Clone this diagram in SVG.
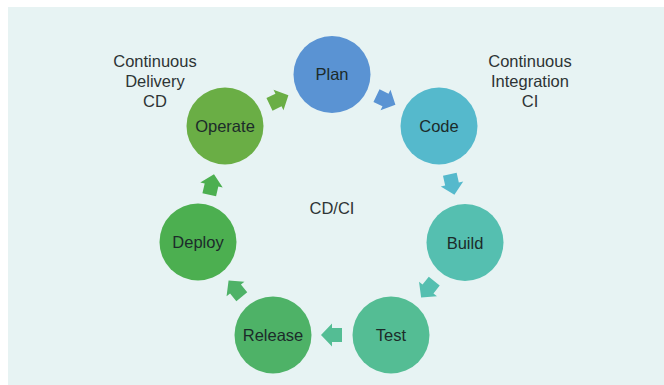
<svg xmlns="http://www.w3.org/2000/svg" width="664" height="385" viewBox="0 0 664 385">
<defs>
<style>
.lbl{font-family:"Liberation Sans",Arial,sans-serif;font-size:16.5px;fill:#1c2b2a;text-anchor:middle}
.note{font-family:"Liberation Sans",Arial,sans-serif;font-size:16.5px;fill:#2e3435;text-anchor:middle}
</style>
<path id="arr" d="M-10,-7 L0,-7 L0,-11.5 L11,0 L0,11.5 L0,7 L-10,7 Z"/>
</defs>
<rect x="0" y="0" width="664" height="385" fill="#ffffff"/>
<rect x="8" y="7" width="656" height="378" fill="#e7f3f3"/>
<g id="connectors">
<use href="#arr" fill="#5a93d3" transform="translate(385.5,100) rotate(25.7)"/>
<use href="#arr" fill="#55b9cc" transform="translate(452,184) rotate(77.4)"/>
<use href="#arr" fill="#55bfb0" transform="translate(428,289) rotate(128.7)"/>
<use href="#arr" fill="#54bd94" transform="translate(332,335) rotate(180)"/>
<use href="#arr" fill="#4eb267" transform="translate(235.5,289) rotate(231)"/>
<use href="#arr" fill="#4caf50" transform="translate(211.5,185) rotate(-76.9)"/>
<use href="#arr" fill="#6aae45" transform="translate(278.5,100) rotate(-25.7)"/>
</g>
<g id="plan"><circle cx="332" cy="74.5" r="38.5" fill="#5a93d3"/><text class="lbl" x="332" y="80">Plan</text></g>
<g id="code"><circle cx="439" cy="126" r="38.5" fill="#55b9cc"/><text class="lbl" x="439" y="132">Code</text></g>
<g id="build"><circle cx="465" cy="242.5" r="38.5" fill="#55bfb0"/><text class="lbl" x="465" y="248.5">Build</text></g>
<g id="test"><circle cx="391" cy="335" r="38.5" fill="#54bd94"/><text class="lbl" x="391" y="341">Test</text></g>
<g id="release"><circle cx="273" cy="335" r="38.5" fill="#4eb267"/><text class="lbl" x="273" y="341">Release</text></g>
<g id="deploy"><circle cx="198" cy="242" r="38.5" fill="#4caf50"/><text class="lbl" x="198" y="248">Deploy</text></g>
<g id="operate"><circle cx="225" cy="126" r="38.5" fill="#6aae45"/><text class="lbl" x="225" y="132">Operate</text></g>
<g id="center-label"><text class="note" x="332" y="214">CD/CI</text></g>
<g id="cd-label"><text class="note" x="155" y="66.5">Continuous</text><text class="note" x="155" y="87">Delivery</text><text class="note" x="155" y="107">CD</text></g>
<g id="ci-label"><text class="note" x="530" y="66.5">Continuous</text><text class="note" x="530" y="87">Integration</text><text class="note" x="530" y="107">CI</text></g>
</svg>
